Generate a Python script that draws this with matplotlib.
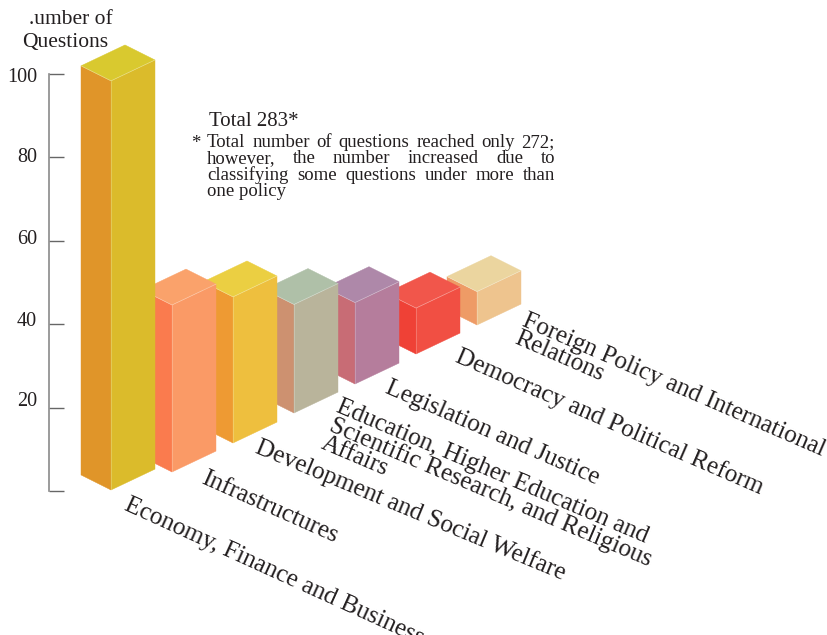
import matplotlib
matplotlib.use('Agg')
import matplotlib.pyplot as plt
from matplotlib.patches import Polygon

# question counts per policy area
categories = [
    'Economy, Finance and Business',
    'Infrastructures',
    'Development and Social Welfare',
    'Education, Higher Education and\nScientific Research, and Religious\nAffairs',
    'Legislation and Justice',
    'Democracy and Political Reform',
    'Foreign Policy and International\nRelations',
]
values = [98, 40, 35, 26, 19.5, 11, 8]
y_ticks = [0, 20, 40, 60, 80, 100]
y_tick_labels = ['', '20', '40', '60', '80', '100']

note_lines = [
    'Total number of questions reached only 272;',
    'however, the number increased due to',
    'classifying some questions under more than',
    'one policy',
]

# face colours: left, right, top
left_colors = ['#E09529', '#FA7B4E', '#EE9A33', '#CD9170', '#C86C75', '#EF4136', '#EE9B66']
right_colors = ['#DBBB2B', '#FA9A66', '#EEBF3E', '#B9B49B', '#B57D9C', '#F14F43', '#EEC48E']
top_colors = ['#D9C92F', '#FAA26B', '#EBCF42', '#AFC0A8', '#AE88A9', '#F1564B', '#EBD59F']

# layout, in pixels
W, H = 828, 635
ZERO_PX = 491
PX_PER_UNIT = 4.175
front_x = [111, 172, 233, 294, 355, 416, 477]
front_bottom = [490, 472, 443, 413, 384, 354, 325]
label_pos = [(130, 494), (207, 467), (261, 436), (342, 396), (391, 377), (461, 345), (528, 310)]
label_angle = [-24.5, -24, -22.5, -23, -23.5, -23.5, -23.5]
tick_label_px = [None, 402, 322, 240, 158, 78]


def val(py):
    # pixel row to value units
    return (ZERO_PX - py) / PX_PER_UNIT


fig = plt.figure(figsize=(W / 100, H / 100), dpi=100)
ax = fig.add_axes([0, 0, 1, 1])
ax.set_xlim(0, W)
ax.set_ylim(val(H), val(0))
ax.patch.set_visible(False)

for s in ['top', 'right', 'bottom']:
    ax.spines[s].set_visible(False)
ax.spines['left'].set_position(('data', 49))
ax.spines['left'].set_bounds(0, 100)
ax.spines['left'].set_color('#8a8a8a')
ax.spines['left'].set_linewidth(1.2)
ax.set_xticks([])
ax.set_yticks(y_ticks)
ax.set_yticklabels([])
ax.tick_params(axis='y', direction='in', length=11, width=1, color='#666666')

serif = 'Liberation Serif'
ink = '#231f20'
for lab, py in zip(y_tick_labels, tick_label_px):
    if lab:
        ax.text(37, val(py), lab, ha='right', va='center', family=serif, fontsize=14.5, color=ink)

ax.text(71, val(20), '.umber of', ha='center', va='center', family=serif, fontsize=15.5, color=ink)
ax.text(65, val(42), 'Questions', ha='center', va='center', family=serif, fontsize=15.5, color=ink)

# isometric bars, front ones painted over the ones behind
LEFT_DX, LEFT_DY = -30, 3.6
RIGHT_DX, RIGHT_DY = 44, 5.0
for i, v in enumerate(values):
    x = front_x[i]
    base = val(front_bottom[i])
    top = base + v
    z = 10 - i
    left = [(x, base), (x, top), (x + LEFT_DX, top + LEFT_DY), (x + LEFT_DX, base + LEFT_DY)]
    right = [(x, base), (x, top), (x + RIGHT_DX, top + RIGHT_DY), (x + RIGHT_DX, base + RIGHT_DY)]
    lid = [(x, top), (x + LEFT_DX, top + LEFT_DY),
           (x + LEFT_DX + RIGHT_DX, top + LEFT_DY + RIGHT_DY), (x + RIGHT_DX, top + RIGHT_DY)]
    ax.add_patch(Polygon(left, closed=True, fc=left_colors[i], ec=left_colors[i], lw=0.3, zorder=z))
    ax.add_patch(Polygon(right, closed=True, fc=right_colors[i], ec=right_colors[i], lw=0.3, zorder=z))
    ax.add_patch(Polygon(lid, closed=True, fc=top_colors[i], ec=top_colors[i], lw=0.3, zorder=z))
    # pale ridge along the front edges
    ax.plot([x + LEFT_DX, x, x + RIGHT_DX], [top + LEFT_DY, top, top + RIGHT_DY],
            color='white', lw=0.5, alpha=0.4, zorder=z)
    ax.plot([x, x], [base, top], color='white', lw=0.5, alpha=0.3, zorder=z)

# slanted category names
for name, (lx, ly), ang in zip(categories, label_pos, label_angle):
    ax.text(lx, val(ly), name, rotation=ang, rotation_mode='anchor', ha='left', va='top',
            family=serif, fontsize=18.2, color=ink, linespacing=0.83, zorder=20)

ax.text(209, val(121), 'Total 283*', ha='left', va='center', family=serif, fontsize=15, color=ink)
ax.text(191, val(143), '*', ha='left', va='center', family=serif, fontsize=13.5, color=ink)

# footnote, justified by hand since matplotlib has no such option
renderer = fig.canvas.get_renderer()
NOTE_LEFT, NOTE_RIGHT = 207, 555
NOTE_ROWS = [142.5, 158.5, 175.5, 191.5]
for n, (line, py) in enumerate(zip(note_lines, NOTE_ROWS)):
    if n == len(note_lines) - 1:
        ax.text(NOTE_LEFT, val(py), line, ha='left', va='center', family=serif, fontsize=13.5, color=ink)
        continue
    words = line.split()
    items = [ax.text(0, val(py), w, ha='left', va='center', family=serif, fontsize=13.5, color=ink)
             for w in words]
    widths = [t.get_window_extent(renderer).width for t in items]
    gap = (NOTE_RIGHT - NOTE_LEFT - sum(widths)) / (len(words) - 1)
    cx = NOTE_LEFT
    for t, w in zip(items, widths):
        t.set_x(cx)
        cx += w + gap

fig.savefig('out.png', dpi=100, facecolor='white')
